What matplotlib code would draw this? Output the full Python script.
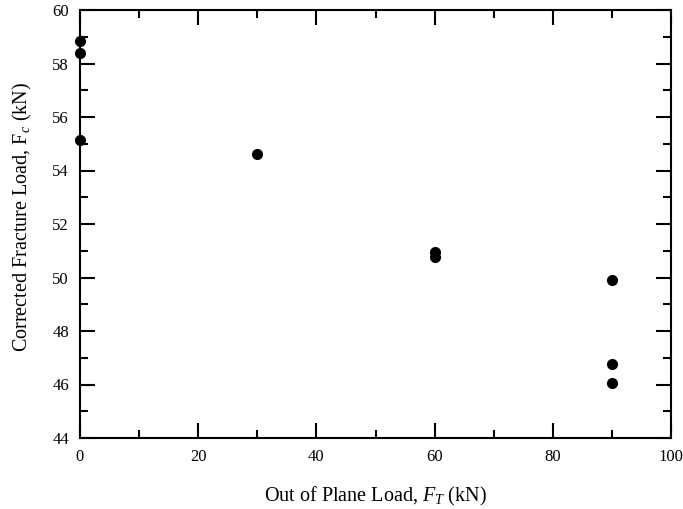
import numpy as np
import matplotlib.pyplot as plt
from matplotlib.ticker import MultipleLocator

plt.rcParams['font.family'] = ['Liberation Serif', 'DejaVu Serif']
plt.rcParams['mathtext.fontset'] = 'custom'
plt.rcParams['mathtext.rm'] = 'Liberation Serif'
plt.rcParams['mathtext.it'] = 'Liberation Serif:italic'

# out of plane load (kN) and corrected fracture load (kN)
out_of_plane = [0, 0, 0, 30, 60, 60, 90, 90, 90]
fracture_load = [58.85, 58.4, 55.15, 54.6, 50.95, 50.75, 49.9, 46.75, 46.05]

fig = plt.figure(figsize=(6.83, 5.09), dpi=100)
ax = fig.add_axes([80 / 683, 1 - 438 / 509, 591 / 683, 428 / 509])

ax.plot(out_of_plane, fracture_load, 'o', color='black', markersize=7,
        clip_on=False, zorder=5)

ax.set_xlim(0, 100)
ax.set_ylim(44, 60)
ax.xaxis.set_major_locator(MultipleLocator(20))
ax.xaxis.set_minor_locator(MultipleLocator(10))
ax.yaxis.set_major_locator(MultipleLocator(2))
ax.yaxis.set_minor_locator(MultipleLocator(1))

ax.tick_params(which='both', direction='in', top=True, right=True,
               width=1.5, labelsize=12, color='black')
ax.tick_params(which='major', length=11, pad=8)
ax.tick_params(which='minor', length=5.5)
for s in ax.spines.values():
    s.set_linewidth(1.5)

ax.set_xlabel(r'Out of Plane Load, $F_T$ (kN)', fontsize=14.5)
ax.set_ylabel(r'Corrected Fracture Load, F$_{\mathit{c}}$ (kN)', fontsize=14.5)
ax.xaxis.label.set_va('center')
ax.yaxis.label.set_va('center')
ax.xaxis.set_label_coords(0.5, -0.1355)
ax.yaxis.set_label_coords(-0.098, 0.516)

fig.savefig('out.png', dpi=100)
